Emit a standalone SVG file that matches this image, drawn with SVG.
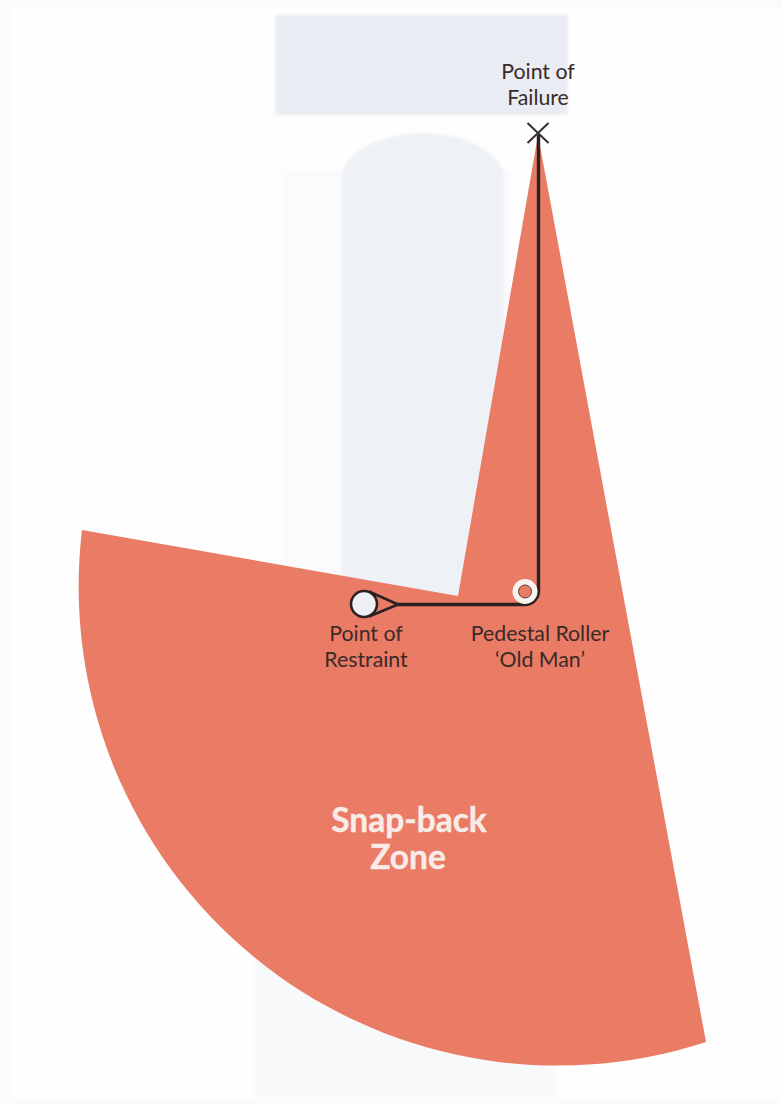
<svg xmlns="http://www.w3.org/2000/svg" width="782" height="1104" viewBox="0 0 782 1104">
<defs><filter id="soft" x="-5%" y="-5%" width="110%" height="110%"><feGaussianBlur stdDeviation="1.5"/></filter></defs>
<style>
.lbl{font-family:"Lato","Open Sans","Liberation Sans",sans-serif;font-size:21.300px;fill:#3a2a28;text-anchor:middle}
.big{font-family:"Lato","Open Sans","Liberation Sans",sans-serif;font-size:33.500px;font-weight:700;fill:#f9ece8;stroke:#f9ece8;stroke-width:0.400;text-anchor:middle}
.rope{fill:none;stroke:#2a2222;stroke-width:3.400;stroke-linejoin:round}
</style>
<rect width="782" height="1104" fill="#fbfbfb"/>
<g id="background" filter="url(#soft)">
<rect x="12" y="7" width="770" height="1092" fill="#fefefe"/>
<rect x="275" y="15" width="293" height="100" fill="#e9ecf2"/>
<rect x="282" y="170" width="228" height="930" fill="#fbfbfd"/>
<path d="M342 175 C345 150 385 133 423 133 C461 133 500 150 504 175 V600 H342 Z" fill="#eef1f6"/>
<rect x="255" y="600" width="300" height="498" fill="#f8f9fb"/>
</g>
<path id="snap-back-zone" d="M538 135 L706 1042 A479 479 0 0 1 82 530 L458 596 Z" fill="#ea7b65"/>
<g id="connectors">
<path class="rope" d="M538.500 135 V591 A13.500 13.500 0 0 1 525 604.500 H397"/>
<path class="rope" d="M398 604.500 L369 591.500 M398 604.500 L369 616.500" style="stroke-width:2.600"/>
</g>
<g id="point-of-failure">
<path d="M527.500 123 L548.500 143 M548.500 123 L527.500 143" fill="none" stroke="#333030" stroke-width="2"/>
<text class="lbl" x="538" y="79">Point of</text>
<text class="lbl" x="538" y="105">Failure</text>
</g>
<g id="point-of-restraint">
<circle cx="364" cy="604" r="13" fill="#eef0f5" stroke="#2a2222" stroke-width="2.600"/>
<text class="lbl" x="366" y="641">Point of</text>
<text class="lbl" x="366" y="667">Restraint</text>
</g>
<g id="pedestal-roller">
<circle cx="525" cy="591.500" r="12.500" fill="#f8f4f0"/>
<circle cx="525" cy="591.500" r="6.500" fill="#ea7b65" stroke="#5a3a34" stroke-width="1"/>
<text class="lbl" x="540" y="641">Pedestal Roller</text>
<text class="lbl" x="540" y="667">‘Old Man’</text>
</g>
<g id="zone-label">
<text class="big" x="409" y="832">Snap-back</text>
<text class="big" x="408" y="869">Zone</text>
</g>
</svg>
